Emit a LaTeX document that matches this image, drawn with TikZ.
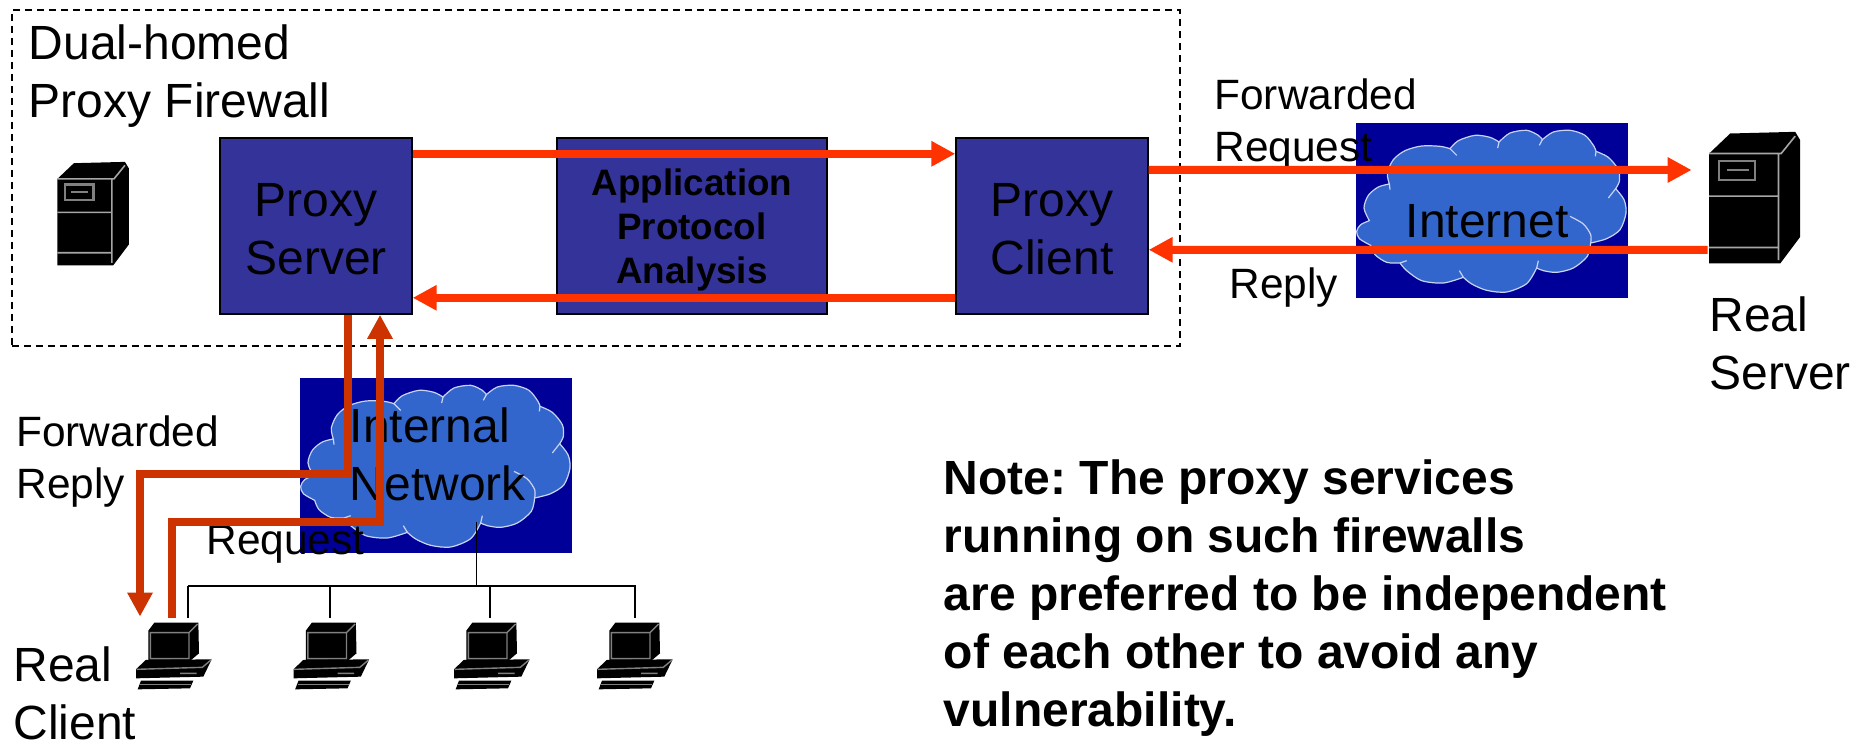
\documentclass[tikz,border=0pt]{standalone}
\usepackage{fontspec}
\setmainfont{Liberation Sans}
\usetikzlibrary{arrows.meta}

\definecolor{boxblue}{HTML}{333399}
\definecolor{netblue}{HTML}{000099}
\definecolor{cloudblue}{HTML}{3366CC}
\definecolor{cloudedge}{HTML}{C8D4F0}
\definecolor{fwdred}{HTML}{FF3300}
\definecolor{lanred}{HTML}{CC3300}

\tikzset{
  lbl/.style={anchor=base west,inner sep=0pt,align=left,font=\fontsize{24}{29}\selectfont\frenchspacing},
  flowlbl/.style={lbl,font=\fontsize{21.2}{26}\selectfont},
  notetxt/.style={lbl,font=\fontsize{24}{29}\selectfont\bfseries\frenchspacing},
  procbox/.style={draw=black,line width=1pt,fill=boxblue,inner sep=0pt,align=center,
    minimum width=95.7pt,minimum height=88pt,font=\fontsize{24}{29}\selectfont},
  netrect/.style={fill=netblue,inner sep=0pt,anchor=north west,minimum width=136pt,minimum height=87.5pt},
  iconbox/.style={inner sep=0pt,minimum width=44.5pt,minimum height=65.5pt},
  pcbox/.style={inner sep=0pt,minimum width=37pt,minimum height=34pt},
  fwdarrow/.style={draw=fwdred,line width=4pt,-{Triangle[length=12pt,width=12pt]}},
  lanarrow/.style={draw=lanred,line width=4pt,-{Triangle[length=12pt,width=12pt]}},
  busline/.style={draw=black,line width=.8pt},
  cloud/.pic={
    \begin{scope}[scale=1/3,shift={(-18,-15)}]
    \path[fill=cloudblue,draw=cloudedge,line width=.6pt]
      plot[smooth] coordinates {(62,382)(28,362)(20,340)(32,320)(58,308)}
      -- plot[smooth] coordinates {(58,308)(42,270)(55,232)(85,207)(118,198)}
      -- plot[smooth] coordinates {(118,198)(112,165)(130,125)(165,98)(215,84)(270,85)(300,92)}
      -- plot[smooth] coordinates {(300,92)(325,68)(375,52)(420,58)(447,72)}
      -- plot[smooth] coordinates {(447,72)(480,45)(530,37)(565,52)(577,65)}
      -- plot[smooth] coordinates {(577,65)(610,42)(660,37)(705,52)(732,85)(738,100)}
      -- plot[smooth] coordinates {(738,100)(775,118)(805,155)(808,190)(797,212)}
      -- plot[smooth] coordinates {(797,212)(822,245)(828,285)(810,335)(770,362)(722,375)}
      -- plot[smooth] coordinates {(722,375)(712,415)(670,450)(620,463)(580,458)(560,450)}
      -- plot[smooth] coordinates {(560,450)(530,497)(470,522)(410,517)(365,498)(340,478)}
      -- plot[smooth] coordinates {(340,478)(280,495)(215,488)(170,458)(150,435)}
      -- plot[smooth] coordinates {(150,435)(110,433)(75,410)(62,382)} -- cycle;
    \draw[cloudedge,line width=.6pt] (300,92)--(320,112) (447,72)--(443,90) (577,65)--(568,82)
      (738,100)--(736,115) (797,212)--(775,240) (560,450)--(565,428) (340,478)--(328,458)
      (150,435)--(170,428) (118,198)--(120,215);
    \draw[cloudedge,line width=.6pt] plot[smooth] coordinates {(722,375)(722,350)(700,318)(660,295)};
    \end{scope}
  },
  srvicon/.pic={
    \begin{scope}[scale=1/3,shift={(-178,-232)}]
    \fill[black] (42,100)--(105,40)--(300,35)--(315,60)--(315,350)--(255,430)--(42,430)--cycle;
    \draw[gray!70,line width=.8pt] (42,100)--(258,100)--(300,48) (42,228)--(250,228) (42,382)--(250,382)
      (250,100)--(250,420);
    \draw[gray,line width=1.2pt] (72,122) rectangle (180,180);
    \draw[gray,line width=.7pt] (95,150)--(160,150);
    \end{scope}
  },
  pcicon/.pic={
    \begin{scope}[scale=1/3,shift={(-147,-138)}]
    \fill[black] (70,62)--(88,38)--(220,38)--(222,130)--(196,152)--(70,150)--cycle;
    \draw[gray,line width=.7pt] (76,68)--(192,68)--(192,146)--(76,146)--cycle (192,68)--(218,42);
    \fill[black] (33,178)--(62,150)--(260,148)--(235,200)--(33,205)--cycle;
    \draw[gray,line width=.7pt] (35,178)--(232,172)--(258,150) (165,190)--(215,190);
    \fill[black] (48,212)--(205,212)--(195,235)--(38,238)--cycle;
    \draw[gray,line width=.6pt] (45,224)--(198,224);
    \end{scope}
  }
}

\begin{document}
\begin{tikzpicture}[x=.5pt,y=-.5pt]
\useasboundingbox (0,0) rectangle (1866,742);

% firewall frame
\node (fwframe) [draw=black,line width=.9pt,dash pattern=on 3.5pt off 2.5pt,inner sep=0pt,
  minimum width=584pt,minimum height=168pt] at (596,178) {};
\node (fwtitle) [lbl] at (28.5,118) {Dual-homed\\Proxy Firewall};
\node (fwsrv) [iconbox,minimum width=35pt,minimum height=51.5pt] at (93,213.5) {};
\pic [scale=.786] at (fwsrv.center) {srvicon};

\node (pserver) [procbox] at (316,225.8) {\rule{0pt}{20.3pt}Proxy\\Server};
\node (analysis) [procbox,minimum width=135.3pt,font=\fontsize{18.4}{22}\selectfont\bfseries] at (692,225.8) {\rule{0pt}{17.3pt}Application\\Protocol\\Analysis};
\node (pclient) [procbox] at (1052,225.8) {\rule{0pt}{20.3pt}Proxy\\Client};

% clouds
\node (inet) [netrect] at (1356,123) {};
\pic at (1356,123) {cloud};
\node (inetlbl) [lbl] at (1405.5,238) {Internet};
\node (lan) [netrect] at (300,378) {};
\pic at (300,378) {cloud};
\node (lanlbl) [lbl,font=\fontsize{24}{28.5}\selectfont] at (349.5,500) {Internal\\Network};

% real server
\node (realsrv) [iconbox] at (1754.5,197.5) {};
\pic at (realsrv.center) {srvicon};
\node (srvlbl) [lbl] at (1709,390) {Real\\Server};

% lan
\foreach \n/\x in {pc1/174,pc2/331.5,pc3/492,pc4/635}
  \node (\n) [pcbox] at (\x,656) {};
\foreach \n in {pc1,pc2,pc3,pc4}
  \pic at (\n.center) {pcicon};
\coordinate (busL) at (188,586);
\foreach \n/\s in {pc1/7,pc2/-.75,pc3/-1,pc4/0}
  \draw[busline] ([xshift=\s pt,yshift=2pt]\n.north) |- (busL);
\draw[busline] ([xshift=20pt,yshift=-28.25pt]lan.center) -- ([xshift=20pt]lan.center |- busL);

% labels
\node (fwdreq) [flowlbl] at (1214,162) {Forwarded\\Request};
\node (replylbl) [flowlbl] at (1229,299) {Reply};
\node (fwdrep) [flowlbl] at (16,498) {Forwarded\\Reply};
\node (reqlbl) [flowlbl] at (206,554) {Request};
\node (clientlbl) [lbl] at (13,739) {Real\\Client};
\node (note) [notetxt] at (943.5,726.5) {Note: The proxy services\\running on such firewalls\\are preferred to be independent\\of each other to avoid any\\vulnerability.};

% flows
\draw[fwdarrow] ([yshift=36pt]pserver.east) -- ([yshift=36pt]pclient.west);
\draw[fwdarrow] ([yshift=-36pt]pclient.west) -- ([yshift=-36pt]pserver.east);
\draw[fwdarrow] ([yshift=28pt]pclient.east) -- ([xshift=-9pt,yshift=13.75pt]realsrv.west);
\draw[fwdarrow] ([xshift=-1pt,yshift=-26.25pt]realsrv.west) -- ([yshift=-12pt]pclient.east);

\coordinate (repbend) at (140,474);
\coordinate (reqbend) at (172,522);
\draw[lanarrow] ([xshift=16pt]pserver.south) |- (repbend) -- ([xshift=-17pt,yshift=2.5pt]pc1.north);
\draw[lanarrow] ([xshift=-1pt,yshift=2pt]pc1.north) -- (reqbend) -| ([xshift=32pt]pserver.south);

\end{tikzpicture}
\end{document}
